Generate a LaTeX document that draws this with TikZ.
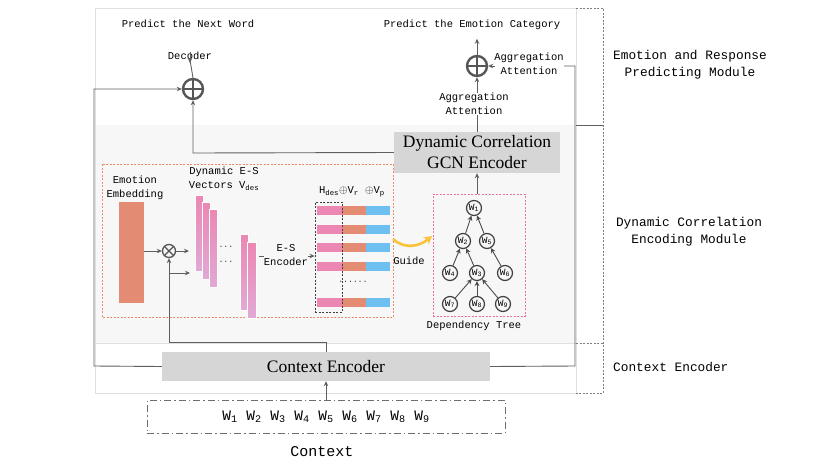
\documentclass[tikz,border=0pt]{standalone}
\usepackage{fontspec}
\setmainfont{Liberation Serif}
\newfontfamily\mono{Liberation Mono}
\usetikzlibrary{arrows.meta,calc}
\definecolor{lc}{HTML}{5F5F5F}
\definecolor{bgc}{HTML}{F7F7F7}
\definecolor{boxg}{HTML}{D6D6D6}
\definecolor{emb}{HTML}{E38B73}
\definecolor{pk}{HTML}{EC87B3}
\definecolor{pkl}{HTML}{E1A9D5}
\definecolor{bl}{HTML}{6EC0F0}
\definecolor{org}{HTML}{F08A6A}
\definecolor{pkd}{HTML}{F070A0}
\definecolor{yel}{HTML}{FBC23C}
\begin{document}
\begin{tikzpicture}[x=1pt,y=-1pt,
  ln/.style={draw=lc,line width=0.9pt},
  arr/.style={ln,-{Stealth[length=5pt,width=4.5pt]}},
  lbl/.style={font=\mono\fontsize{10.5}{14}\selectfont,align=center,inner sep=0pt,text=black},
  biglbl/.style={font=\mono\fontsize{12.8}{17}\selectfont,align=center,inner sep=0pt,text=black},
  gbox/.style={fill=boxg,draw=none,font=\fontsize{17.5}{21}\selectfont,align=center,inner sep=0pt},
  opl/.style={circle,draw=lc!90!black,line width=2.4pt,minimum size=20pt,inner sep=0pt,
    path picture={\draw[lc!90!black,line width=2.4pt] (path picture bounding box.north)--(path picture bounding box.south) (path picture bounding box.west)--(path picture bounding box.east);}},
  otm/.style={circle,draw=lc!90!black,line width=1.3pt,minimum size=13pt,inner sep=0pt,fill=bgc,
    path picture={\draw[lc!90!black,line width=1.3pt] (path picture bounding box.north west)--(path picture bounding box.south east) (path picture bounding box.south west)--(path picture bounding box.north east);}},
  bar/.style={draw=white,line width=0.6pt,top color=pk,bottom color=pkl},
  tn/.style={circle,draw=black!75,line width=1.2pt,minimum size=15pt,inner sep=0pt,fill=bgc,font=\mono\fontsize{9.5}{9.5}\selectfont},
  tarr/.style={draw=black!70,line width=0.9pt,-{Stealth[length=5pt,width=5pt]}},
  dots/.style={inner sep=0pt,font=\fontsize{11}{11}\selectfont}]
\useasboundingbox (0,0) rectangle (817,472);
\fill[white] (0,0) rectangle (817,472);
% frames
\draw[draw=black!12,fill=white] (95,8) rectangle (576,393);
\fill[bgc] (95.5,125) rectangle (575.5,343);
\draw[black!12] (95,343) -- (576,343);
\draw[lc!80,line width=0.8pt,dash pattern=on 2pt off 1.5pt] (576,8) -- (603,8) -- (603,393) -- (576,393);
\draw[lc,line width=0.8pt] (576,125) -- (603,125);
\draw[lc!80,line width=0.8pt,dash pattern=on 2pt off 1.5pt] (576,343) -- (603,343);
\node[biglbl] (lab1) at (690,65) {Emotion and Response\\Predicting Module};
\node[biglbl] (lab2) at (689,232) {Dynamic Correlation\\Encoding Module};
\node[biglbl,anchor=west] (lab3) at (613,367) {Context Encoder};

% context
\node[gbox,minimum width=328pt,minimum height=29pt] (ctx) at (326,366.5) {Context Encoder};
\node[draw=lc!90,line width=0.9pt,dash pattern=on 7pt off 3pt on 1.5pt off 3pt,minimum width=358pt,minimum height=33pt,inner sep=0pt,font=\mono\fontsize{14.5}{14.5}\selectfont] (words) at (326,416.5)
  {W\textsubscript{1} W\textsubscript{2} W\textsubscript{3} W\textsubscript{4} W\textsubscript{5} W\textsubscript{6} W\textsubscript{7} W\textsubscript{8} W\textsubscript{9}};
\node[font=\mono\fontsize{15}{15}\selectfont,inner sep=0pt] (ctxl) at (322,452) {Context};
\draw[arr] (words.north) -- (ctx.south);

% top module
\node[opl] (op1) at (193,89) {};
\node[opl] (op2) at (477,66) {};
\node[lbl] (pred1) at (188,24) {Predict the Next Word};
\node[lbl] (pred2) at (472,25) {Predict the Emotion Category};
\node[lbl] (dec) at (190,56) {Decoder};
\draw[ln] (op1.north) -- (dec.south);
\draw[arr] (dec.north) -- ++(0,11);
\draw[arr] (op2.north) -- ++(0,-16);
\node[gbox,minimum width=166pt,minimum height=41pt] (gcn) at (477,152.5) {Dynamic Correlation\\GCN Encoder};
\draw[arr] (gcn.north) -- (op2.south);
\node[lbl,fill=white] (agg1) at (474,104) {Aggregation\\Attention};
\coordinate (r1) at (575,366);
\coordinate (r2) at (575,66);
\draw[ln] (ctx.east) -- (r1) -- (r2) -- (564,66);
\node[lbl] (agg2) at (529,64) {Aggregation\\Attention};
\coordinate (a2) at (495,66);
\draw[arr] (a2) -- (op2.east);
\coordinate (l1) at (94,366);
\coordinate (l2) at (94,89);
\draw[arr] (ctx.west) -- (l1) -- (l2) -- (op1.west);
\coordinate (g1) at (193,153);
\draw[arr] (gcn.west) -- (g1) -- (op1.south);

% encoding module
\draw[org,line width=0.8pt,dash pattern=on 2pt off 1.5pt] (102,164) rectangle (393,317);
\node[lbl] (embl) at (135,188) {Emotion\\Embedding};
\fill[emb] (119,202) rectangle (144,303);
\coordinate (embr) at (144,251);
\node[otm] (otm) at (169,251) {};
\draw[arr] (embr) -- (otm.west);
\coordinate (v0) at (189,251);
\draw[arr] (otm.east) -- (v0);
\coordinate (c1) at (326,342);
\coordinate (c2) at (169,342);
\draw[arr] (ctx.north) -- (c1) -- (c2) -- (otm.south);
\coordinate (b0) at (169,273);
\coordinate (v1) at (190,273);
\draw[arr] (b0) -- (v1);
\node[lbl] (vecl) at (224,179) {Dynamic E-S\\Vectors V\textsubscript{des}};
\fill[bar] (195,195) rectangle (203,271);
\fill[bar] (202,202) rectangle (210,279);
\fill[bar] (209,209) rectangle (217,287);
\fill[bar] (240,234) rectangle (248,310);
\fill[bar] (247,242) rectangle (256,318);
\node[dots] (d1) at (226,247) {$\cdots$};
\node[dots] (d2) at (226,262) {$\cdots$};
% table
\foreach \yy in {210.5,229,247.5,266,302.5}{
  \fill[pk] (317,\yy-4.5) rectangle (342,\yy+4.5);
  \fill[emb] (342,\yy-4.5) rectangle (366,\yy+4.5);
  \fill[bl] (366,\yy-4.5) rectangle (390,\yy+4.5);
}
\node[draw=black!75,line width=0.8pt,dash pattern=on 2pt off 1.5pt,minimum width=27pt,minimum height=110pt,inner sep=0pt] (hbox) at (328.5,257) {};
\node[dots] (d3) at (353,282) {$\cdots\cdots$};
\node[lbl] (hlab) at (352,192) {H\textsubscript{des}$\oplus$V\textsubscript{r} $\oplus$V\textsubscript{p}};
\coordinate (es0) at (259,256);
\draw[arr] (es0) -- (es0 -| hbox.west);
\node[lbl,fill=bgc] (esl) at (286,255) {E-S\\Encoder};
% guide
\coordinate (gu0) at (393,239);
\coordinate (gu1) at (432,236);
\draw[yel,line width=2.6pt,-{Stealth[length=8pt,width=9pt]}] (gu0) .. controls (405,250) and (420,246) .. (gu1);
\node[lbl] (guide) at (409,261) {Guide};
% tree
\node[draw=pkd,line width=0.8pt,dash pattern=on 2pt off 1.5pt,minimum width=92pt,minimum height=122pt,inner sep=0pt] (tree) at (479,255) {};
\node[lbl] (treel) at (474,326) {Dependency Tree};
\node[tn] (w1) at (474,208) {W\textsubscript{1}};
\node[tn] (w2) at (463,241) {W\textsubscript{2}};
\node[tn] (w5) at (487,241) {W\textsubscript{5}};
\node[tn] (w4) at (450,273) {W\textsubscript{4}};
\node[tn] (w3) at (477,273) {W\textsubscript{3}};
\node[tn] (w6) at (505,273) {W\textsubscript{6}};
\node[tn] (w7) at (450,304) {W\textsubscript{7}};
\node[tn] (w8) at (477,304) {W\textsubscript{8}};
\node[tn] (w9) at (503,304) {W\textsubscript{9}};
\foreach \c/\p in {w2/w1,w5/w1,w4/w2,w3/w2,w6/w5,w7/w3,w8/w3,w9/w3}
  \draw[tarr] (\c) -- (\p);
\draw[arr] (gcn.south |- tree.north) -- (gcn.south);
\end{tikzpicture}
\end{document}
